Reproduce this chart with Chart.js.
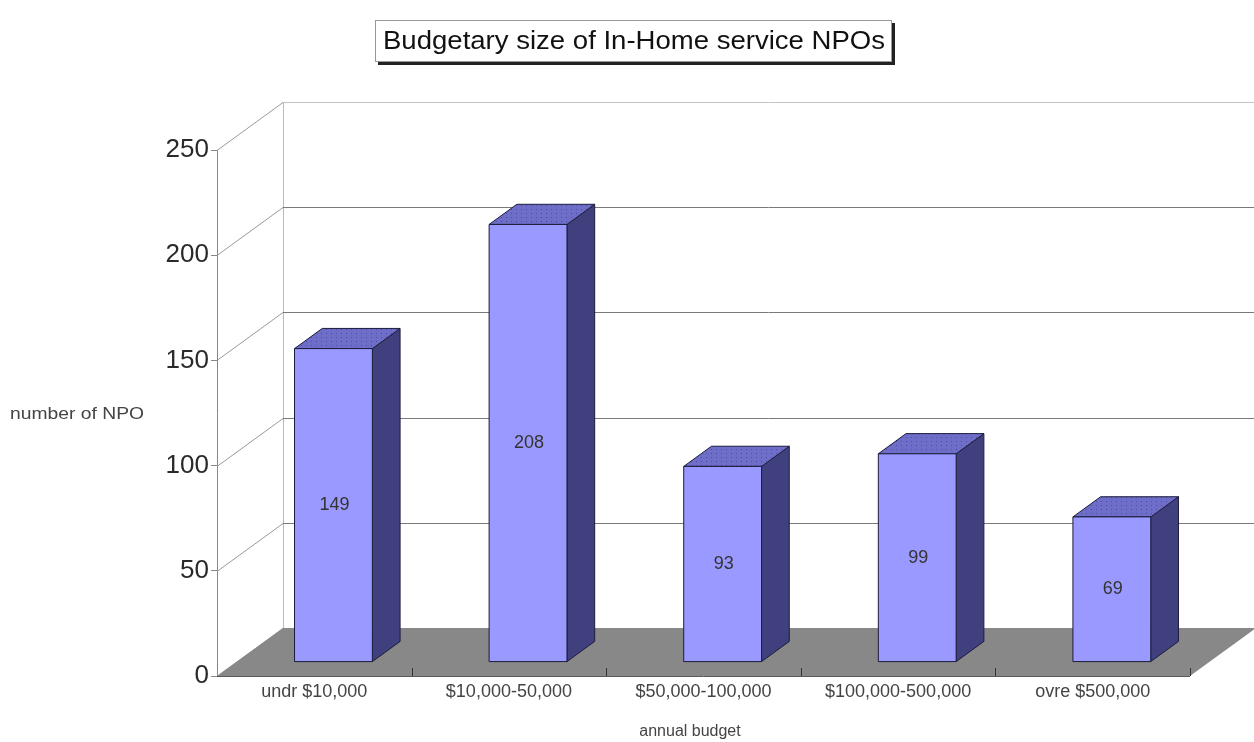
<!DOCTYPE html>
<html>
<head>
<meta charset="utf-8">
<script src="https://cdn.jsdelivr.net/npm/chart.js@4.4.1/dist/chart.umd.min.js"></script>
<style>
  html, body { margin: 0; padding: 0; background: #fff; }
</style>
</head>
<body>
<canvas id="npoChart" width="1254" height="742"></canvas>
<script>
const budgetLabels = ['undr $10,000', '$10,000-50,000', '$50,000-100,000', '$100,000-500,000', 'ovre $500,000'];
const npoCounts = [149, 208, 93, 99, 69];
const yTickValues = [0, 50, 100, 150, 200, 250];
const chartTitle = 'Budgetary size of In-Home service NPOs';
const xTitle = 'annual budget';
const yTitle = 'number of NPO';

// fake 3D depth of the plot box (pixels) and where the bars sit inside it
const DEPTH_X = 66, DEPTH_Y = -48;
const BAR_FRONT = 0.29, BAR_BACK = 0.71;

// dotted fill for the bar tops
function topPattern(ctx) {
    const c = document.createElement('canvas');
    c.width = 5; c.height = 4;
    const p = c.getContext('2d');
    p.fillStyle = '#6e6ec9';
    p.fillRect(0, 0, 5, 4);
    p.fillStyle = '#4c4ca6';
    p.fillRect(1, 1, 1, 1);
    return ctx.createPattern(c, 'repeat');
}

function poly(ctx, pts, fill, stroke) {
    ctx.beginPath();
    ctx.moveTo(pts[0][0], pts[0][1]);
    for (let i = 1; i < pts.length; i++) ctx.lineTo(pts[i][0], pts[i][1]);
    ctx.closePath();
    if (fill) { ctx.fillStyle = fill; ctx.fill(); }
    if (stroke) { ctx.strokeStyle = stroke; ctx.lineWidth = 1; ctx.stroke(); }
}

function line(ctx, x1, y1, x2, y2, color) {
    ctx.strokeStyle = color;
    ctx.lineWidth = 1;
    ctx.beginPath();
    ctx.moveTo(x1, y1);
    ctx.lineTo(x2, y2);
    ctx.stroke();
}

// text squeezed/stretched sideways to a given width (the original uses a wide font)
function wideText(ctx, text, x, y, width) {
    const sx = width / ctx.measureText(text).width;
    ctx.save();
    ctx.translate(x, y);
    ctx.scale(sx, 1);
    ctx.fillText(text, 0, 0);
    ctx.restore();
}

const box3d = {
    id: 'box3d',
    beforeDatasetsDraw(chart) {
        const { ctx, chartArea: a, scales: { x, y } } = chart;
        const bx = a.left + DEPTH_X;
        ctx.save();
        // back wall left edge
        line(ctx, bx + 0.5, y.getPixelForValue(250) + DEPTH_Y, bx + 0.5, y.getPixelForValue(0) + DEPTH_Y, '#bbb');
        // side wall diagonals and back wall gridlines
        yTickValues.forEach(v => {
            const py = Math.round(y.getPixelForValue(v)) + 0.5;
            line(ctx, a.left, py, bx, py + DEPTH_Y, '#999');
            line(ctx, bx, py + DEPTH_Y, chart.width, py + DEPTH_Y, v === 250 ? '#c4c4c4' : '#7a7a7a');
        });
        // floor
        const fy = y.getPixelForValue(0);
        poly(ctx, [[a.left, fy], [a.right, fy], [a.right + DEPTH_X, fy + DEPTH_Y], [a.left + DEPTH_X, fy + DEPTH_Y]], '#888888');
        line(ctx, a.left, Math.round(fy) + 0.5, a.right, Math.round(fy) + 0.5, '#5a5a5a');
        // category separators on the floor edge
        const step = (a.right - a.left) / budgetLabels.length;
        budgetLabels.forEach((lab, i) => {
            const px = Math.round(x.getPixelForValue(i) + step / 2) + 0.5;
            line(ctx, px, fy - 8, px, fy, '#333');
        });
        ctx.restore();
    },
    afterDatasetsDraw(chart) {
        const { ctx } = chart;
        const meta = chart.getDatasetMeta(0);
        const pat = topPattern(ctx);
        ctx.save();
        meta.data.forEach((bar, i) => {
            const w = bar.width;
            const fx = bar.x - w / 2 + BAR_FRONT * DEPTH_X;
            const fyTop = bar.y + BAR_FRONT * DEPTH_Y;
            const fyBot = bar.base + BAR_FRONT * DEPTH_Y;
            const dx = (BAR_BACK - BAR_FRONT) * DEPTH_X;
            const dy = (BAR_BACK - BAR_FRONT) * DEPTH_Y;
            const edge = '#1c1c3c';
            // side
            poly(ctx, [[fx + w, fyTop], [fx + w + dx, fyTop + dy], [fx + w + dx, fyBot + dy], [fx + w, fyBot]], '#40407f', edge);
            // top
            poly(ctx, [[fx, fyTop], [fx + dx, fyTop + dy], [fx + w + dx, fyTop + dy], [fx + w, fyTop]], pat, edge);
            // front
            poly(ctx, [[fx, fyTop], [fx + w, fyTop], [fx + w, fyBot], [fx, fyBot]], '#9999ff', edge);
            // value
            ctx.fillStyle = '#333';
            ctx.font = '18px "Liberation Sans", Arial, sans-serif';
            ctx.textAlign = 'center';
            ctx.textBaseline = 'middle';
            ctx.fillText(String(npoCounts[i]), fx + w / 2 + 1, (fyTop + fyBot) / 2);
        });
        ctx.restore();
    },
    afterDraw(chart) {
        const { ctx } = chart;
        ctx.save();
        // title in a shadowed box
        const bxl = 375, byt = 20, bw = 517, bh = 42;
        ctx.fillStyle = '#222';
        ctx.fillRect(bxl + 3, byt + 3, bw, bh);
        ctx.fillStyle = '#fff';
        ctx.fillRect(bxl, byt, bw, bh);
        ctx.strokeStyle = '#999';
        ctx.lineWidth = 1;
        ctx.strokeRect(bxl + 0.5, byt + 0.5, bw - 1, bh - 1);
        ctx.font = '26px "Liberation Sans", Arial, sans-serif';
        ctx.fillStyle = '#111';
        ctx.textAlign = 'left';
        ctx.textBaseline = 'middle';
        wideText(ctx, chartTitle, 383, byt + bh / 2 + 1, 502);
        // axis titles
        ctx.font = '16px "Liberation Sans", Arial, sans-serif';
        ctx.fillStyle = '#444';
        ctx.textAlign = 'center';
        ctx.fillText(xTitle, 690, 732);
        ctx.textAlign = 'left';
        wideText(ctx, yTitle, 10, 415, 134);
        ctx.restore();
    }
};

new Chart(document.getElementById('npoChart'), {
    type: 'bar',
    data: {
        labels: budgetLabels,
        datasets: [{
            label: yTitle,
            data: npoCounts,
            backgroundColor: 'rgba(0,0,0,0)',
            borderWidth: 0,
            categoryPercentage: 1,
            barPercentage: 0.4
        }]
    },
    options: {
        responsive: false,
        animation: false,
        layout: { padding: { top: 150, right: 64, left: 0, bottom: 0 } },
        plugins: { legend: { display: false }, tooltip: { enabled: false } },
        scales: {
            x: {
                grid: { display: false, drawTicks: false },
                border: { display: false },
                ticks: {
                    font: { family: 'Liberation Sans', size: 18 },
                    color: '#444',
                    padding: 5,
                    maxRotation: 0,
                    autoSkip: false
                },
                afterFit(s) { s.height = 66; }
            },
            y: {
                min: 0,
                max: 250,
                ticks: {
                    stepSize: 50,
                    font: { family: 'Liberation Sans', size: 26 },
                    color: '#2a2a2a',
                    padding: 2
                },
                grid: { drawOnChartArea: false, drawTicks: true, tickLength: 6, color: '#888' },
                border: { display: true, color: '#888' },
                afterFit(s) { s.width = 217; }
            }
        }
    },
    plugins: [box3d]
});
</script>
</body>
</html>
